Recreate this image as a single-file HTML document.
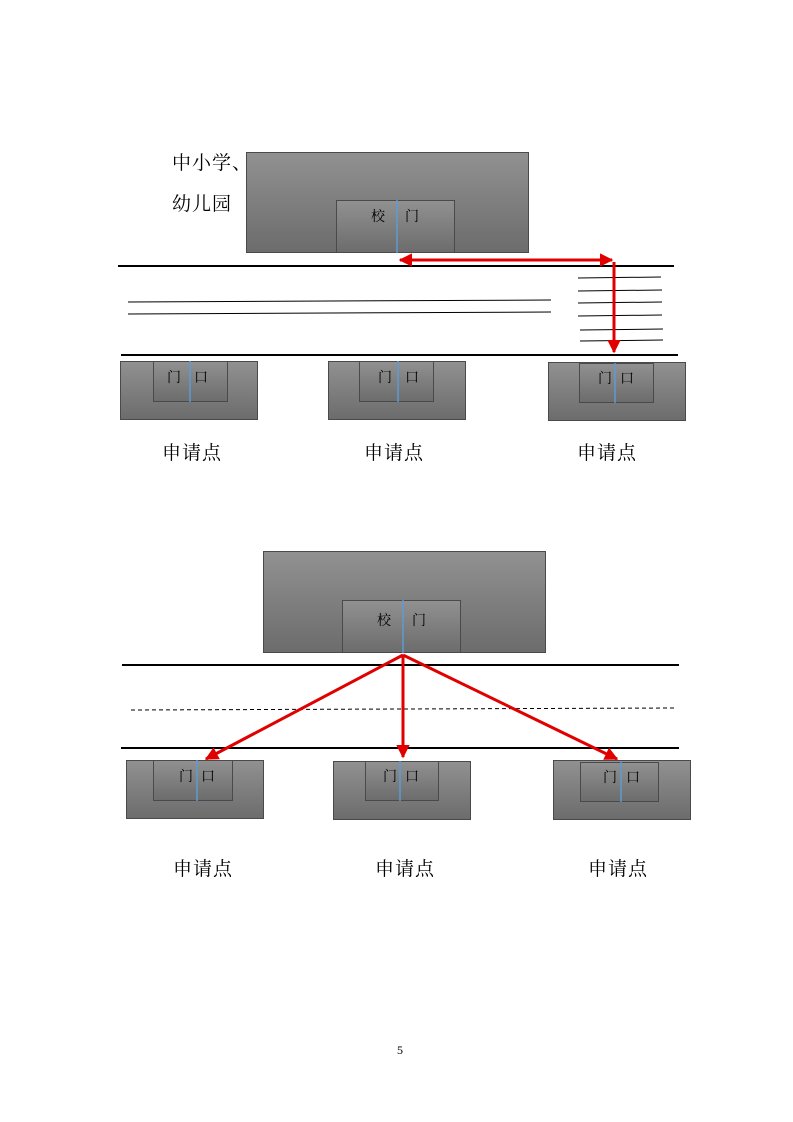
<!DOCTYPE html>
<html><head><meta charset="utf-8"><style>
html,body{margin:0;padding:0;background:#fff;}
svg{display:block;}
text{font-family:"Liberation Serif","Noto Serif CJK SC","Noto Sans CJK SC",serif;fill:#000;}
.lb{font-family:"Liberation Serif","Noto Serif CJK SC",serif;font-size:19px;letter-spacing:1px;}
</style></head><body>
<svg width="793" height="1122" viewBox="0 0 793 1122" xmlns="http://www.w3.org/2000/svg">
<defs>
<linearGradient id="g" x1="0" y1="0" x2="0" y2="1">
<stop offset="0" stop-color="#919191"/><stop offset="1" stop-color="#6c6c6c"/>
</linearGradient>
<marker id="ah" viewBox="0 0 10 10" refX="9" refY="5" markerWidth="4.5" markerHeight="4.5" orient="auto-start-reverse" markerUnits="strokeWidth">
<path d="M0,0 L10,5 L0,10 z" fill="#e00000"/>
</marker>
</defs>
<g stroke="#4a4a4a" stroke-width="1" fill="url(#g)">
<rect x="246.5" y="152.5" width="282" height="100"/>
<rect x="336.5" y="200.5" width="118" height="52"/>
<rect x="120.5" y="361.5" width="137" height="58"/>
<rect x="153.5" y="361.5" width="74" height="40"/>
<rect x="328.5" y="361.5" width="137" height="58"/>
<rect x="359.5" y="361.5" width="74" height="40"/>
<rect x="548.5" y="362.5" width="137" height="58"/>
<rect x="579.5" y="363.5" width="74" height="39"/>
<rect x="263.5" y="551.5" width="282" height="101"/>
<rect x="342.5" y="600.5" width="118" height="52"/>
<rect x="126.5" y="760.5" width="137" height="58"/>
<rect x="153.5" y="760.5" width="79" height="40"/>
<rect x="333.5" y="761.5" width="137" height="58"/>
<rect x="365.5" y="761.5" width="73" height="39"/>
<rect x="553.5" y="760.5" width="137" height="59"/>
<rect x="580.5" y="762.5" width="78" height="39"/>
</g>
<g stroke="#5b9bd5" stroke-width="1.5">
<line x1="397" y1="200" x2="397" y2="253"/>
<line x1="190" y1="361" x2="190" y2="402"/>
<line x1="398" y1="361" x2="398" y2="402"/>
<line x1="615" y1="363" x2="615" y2="403"/>
<line x1="403" y1="600" x2="403" y2="653"/>
<line x1="197" y1="760" x2="197" y2="801"/>
<line x1="400" y1="761" x2="400" y2="801"/>
<line x1="621" y1="762" x2="621" y2="802"/>
</g>
<g stroke="#000" stroke-width="2">
<line x1="118" y1="266" x2="674" y2="266"/>
<line x1="121" y1="355" x2="678" y2="355"/>
<line x1="122" y1="665" x2="679" y2="665"/>
<line x1="121" y1="748" x2="679" y2="748"/>
</g>
<g stroke="#000" stroke-width="1">
<line x1="128" y1="302" x2="551" y2="300"/>
<line x1="128" y1="314" x2="551" y2="312"/>
<line x1="578" y1="278" x2="661" y2="277"/>
<line x1="578" y1="291" x2="662" y2="290"/>
<line x1="578" y1="303" x2="662" y2="302"/>
<line x1="578" y1="316" x2="662" y2="315"/>
<line x1="580" y1="330" x2="663" y2="329"/>
<line x1="580" y1="341" x2="663" y2="340"/>
<line x1="131" y1="710" x2="674" y2="708" stroke-dasharray="4,3"/>
</g>
<g stroke="#e00000" stroke-width="3" fill="none">
<line x1="400" y1="260" x2="612" y2="260" marker-start="url(#ah)" marker-end="url(#ah)"/>
<line x1="614" y1="262" x2="614" y2="352" marker-end="url(#ah)"/>
<line x1="403" y1="655" x2="206" y2="759" marker-end="url(#ah)"/>
<line x1="403" y1="655" x2="403" y2="757" marker-end="url(#ah)"/>
<line x1="403" y1="655" x2="617" y2="759" marker-end="url(#ah)"/>
</g>
<g font-size="14">
<text x="371" y="221">校</text><text x="405" y="221">门</text>
<text x="377" y="625">校</text><text x="412" y="625">门</text>
<text x="167" y="382">门</text><text x="194" y="382">口</text>
<text x="378" y="382">门</text><text x="405" y="382">口</text>
<text x="598" y="383">门</text><text x="620" y="383">口</text>
<text x="179" y="781">门</text><text x="201" y="781">口</text>
<text x="383" y="781">门</text><text x="405" y="781">口</text>
<text x="603" y="782">门</text><text x="626" y="782">口</text>
</g>
<text class="lb" x="172" y="169">中小学、</text>
<text class="lb" x="172" y="210">幼儿园</text>
<text class="lb" x="162" y="459">申请点</text>
<text class="lb" x="364" y="459">申请点</text>
<text class="lb" x="577" y="459">申请点</text>
<text class="lb" x="173" y="875">申请点</text>
<text class="lb" x="375" y="875">申请点</text>
<text class="lb" x="588" y="875">申请点</text>
<text x="397" y="1054" font-size="12">5</text>
</svg>
</body></html>
